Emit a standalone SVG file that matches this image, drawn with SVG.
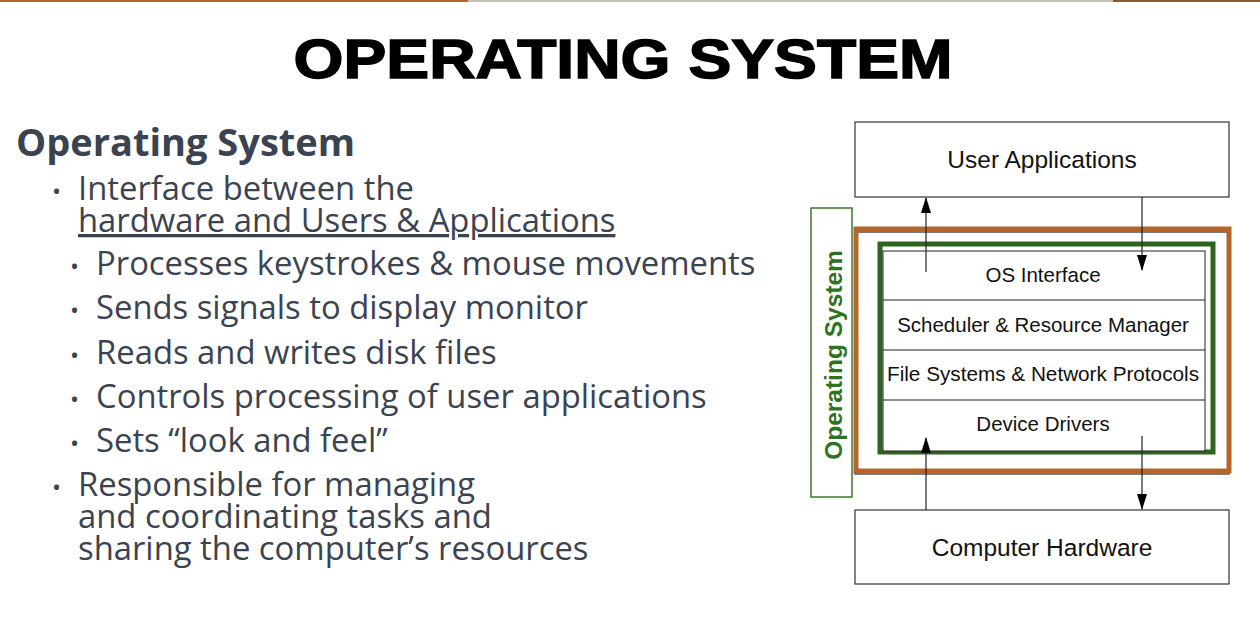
<svg xmlns="http://www.w3.org/2000/svg" width="1260" height="640" viewBox="0 0 1260 640">
<style>
.box{fill:#fff;stroke:#333;stroke-width:1.2}
.dt{font-family:"Liberation Sans",Arial,sans-serif;fill:#111;text-anchor:middle}
.bt{font-family:"Open Sans",sans-serif;fill:#3b4350;font-size:32.8px}
.ln{stroke:#222;stroke-width:1.2;fill:none}
</style>
<defs><marker id="ah" markerWidth="16" markerHeight="12" refX="15" refY="6" orient="auto" markerUnits="userSpaceOnUse"><path d="M0,1 L16,6 L0,11 Z" fill="#000"/></marker></defs>
<rect width="1260" height="640" fill="#fff"/>
<rect x="0" y="0" width="468" height="2" fill="#b5642a"/>
<rect x="468" y="0" width="645" height="2" fill="#c4c0b6"/>
<rect x="1113" y="0" width="147" height="2" fill="#8a5a30"/>
<text x="623" y="78" font-family="'Liberation Sans',Arial,sans-serif" font-weight="900" font-size="56" text-anchor="middle" textLength="659" lengthAdjust="spacingAndGlyphs" stroke="#000" stroke-width="1.5">OPERATING SYSTEM</text>
<text x="16" y="156" font-family="'Open Sans',sans-serif" font-weight="bold" font-size="38" fill="#3b4350">Operating System</text>
<g class="bt">
<text x="52" y="200" font-size="24">•</text><text x="78" y="200">Interface between the</text>
<text x="78" y="232" text-decoration="underline">hardware and Users &amp; Applications</text>
<text x="70" y="275" font-size="24">•</text><text x="96" y="275">Processes keystrokes &amp; mouse movements</text>
<text x="70" y="319" font-size="24">•</text><text x="96" y="319">Sends signals to display monitor</text>
<text x="70" y="364" font-size="24">•</text><text x="96" y="364">Reads and writes disk files</text>
<text x="70" y="408" font-size="24">•</text><text x="96" y="408">Controls processing of user applications</text>
<text x="70" y="452" font-size="24">•</text><text x="96" y="452">Sets “look and feel”</text>
<text x="52" y="496" font-size="24">•</text><text x="78" y="496">Responsible for managing</text>
<text x="78" y="528">and coordinating tasks and</text>
<text x="78" y="560">sharing the computer’s resources</text>
</g>
<g id="user-apps"><rect class="box" x="855" y="122" width="374" height="75"/><text class="dt" x="1042" y="168" font-size="24.5">User Applications</text></g>
<g id="hardware"><rect class="box" x="855" y="510" width="374" height="74"/><text class="dt" x="1042" y="556" font-size="24.5">Computer Hardware</text></g>
<g id="os-label"><rect x="811" y="208" width="41" height="289" fill="#fff" stroke="#3d7a2a" stroke-width="1.5"/><text transform="translate(842,355) rotate(-90)" class="dt" font-size="24.5" font-weight="bold" style="fill:#2f7322">Operating System</text></g>
<g id="os-frame">
<rect x="855" y="232" width="374" height="242" fill="#fff" stroke="#222" stroke-width="1.2"/>
<rect x="856" y="229" width="373" height="242" fill="none" stroke="#b5642a" stroke-width="5"/>
<rect x="880" y="244" width="333" height="208" fill="none" stroke="#2e6420" stroke-width="5"/>
<rect x="883" y="251" width="322" height="200" fill="#fff" stroke="#222" stroke-width="1"/>
<path class="ln" d="M883,300H1205M883,350H1205M883,400H1205" stroke="#333"/>
</g>
<g id="l1"><text class="dt" x="1043" y="282" font-size="20.5">OS Interface</text></g>
<g id="l2"><text class="dt" x="1043" y="332" font-size="20.5">Scheduler &amp; Resource Manager</text></g>
<g id="l3"><text class="dt" x="1043" y="381" font-size="20.5" textLength="312" lengthAdjust="spacingAndGlyphs">File Systems &amp; Network Protocols</text></g>
<g id="l4"><text class="dt" x="1043" y="431" font-size="20.5">Device Drivers</text></g>
<g id="connectors" class="ln">
<path d="M926,272V198" marker-end="url(#ah)"/>
<path d="M1142,197V270" marker-end="url(#ah)"/>
<path d="M926,510V438" marker-end="url(#ah)"/>
<path d="M1142,436V509" marker-end="url(#ah)"/>
</g>
</svg>
